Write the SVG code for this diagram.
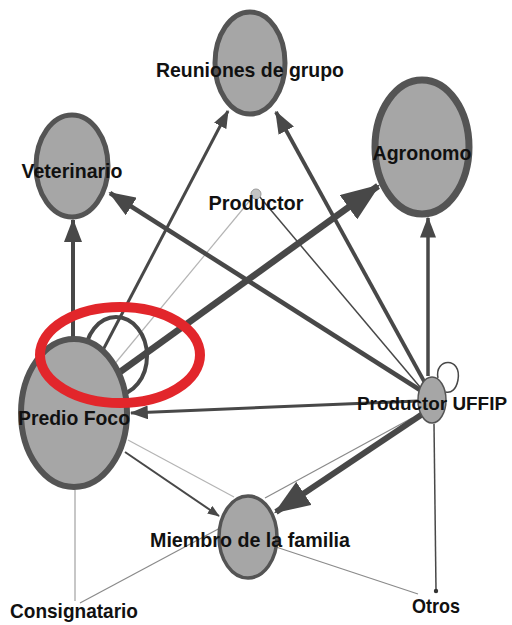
<svg xmlns="http://www.w3.org/2000/svg" width="512" height="625" viewBox="0 0 512 625">
<style>
.node{fill:#a6a6a6;stroke:#545454}
.lbl{font-family:"Liberation Sans",Arial,sans-serif;font-weight:bold;font-size:21px;fill:#111;text-anchor:middle}
.e{fill:none;stroke:#484848;stroke-linecap:butt}
.lt{fill:none;stroke:#b4b4b4}
.md{fill:none;stroke:#8a8a8a}
</style>
<defs>
<marker id="arr" viewBox="0 0 6 4.6" refX="5.6" refY="2.3" markerWidth="6" markerHeight="4.6" markerUnits="strokeWidth" orient="auto">
<path d="M0,0 L6,2.3 L0,4.6 z" fill="#484848"/>
</marker>
</defs>
<rect width="512" height="625" fill="#fff"/>
<g id="connectors">
<line class="lt" x1="75" y1="490" x2="75" y2="601" stroke-width="1.5"/>
<line class="md" x1="80" y1="603" x2="222" y2="527" stroke-width="1.2"/>
<line class="md" x1="276" y1="547" x2="418" y2="594" stroke-width="1.2"/>
<line class="lt" x1="128" y1="440" x2="234" y2="497" stroke-width="1.2"/>
<line class="md" x1="412" y1="418" x2="265" y2="498" stroke-width="1.2"/>
<line class="lt" x1="252" y1="198" x2="108" y2="372" stroke-width="1.2"/>
<line class="e" x1="259" y1="196" x2="420" y2="387" stroke-width="1.5"/>
<line class="e" x1="434" y1="424" x2="436" y2="590" stroke-width="1.5"/>
<circle cx="436" cy="591" r="2.2" fill="#333"/>
<line class="e" x1="73" y1="338" x2="73" y2="220" stroke-width="4" marker-end="url(#arr)"/>
<line class="e" x1="103" y1="350" x2="228" y2="111" stroke-width="3" marker-end="url(#arr)"/>
<line class="e" x1="420" y1="390" x2="110" y2="193" stroke-width="4.5" marker-end="url(#arr)"/>
<line class="e" x1="425" y1="383" x2="276" y2="112" stroke-width="3.8" marker-end="url(#arr)"/>
<line class="e" x1="428" y1="376" x2="428" y2="218" stroke-width="3.5" marker-end="url(#arr)"/>
<line class="e" x1="418" y1="401" x2="131" y2="413" stroke-width="3" marker-end="url(#arr)"/>
<line class="e" x1="125" y1="452" x2="219" y2="516" stroke-width="2" marker-end="url(#arr)"/>
<line class="e" x1="424" y1="413" x2="276" y2="512" stroke-width="6" marker-end="url(#arr)"/>
<line class="e" x1="120" y1="372" x2="378" y2="186" stroke-width="6.5" marker-end="url(#arr)"/>
<ellipse class="e" cx="116" cy="356" rx="31" ry="39" stroke-width="4"/>
<path class="e" d="M438,378 C434,358 462,356 458,380 C456,390 451,393 446,392" stroke-width="1.5"/>
</g>
<g id="node-reuniones">
<ellipse class="node" cx="250" cy="63" rx="35" ry="51" stroke-width="5"/>
<text class="lbl" x="250" y="77" textLength="188" lengthAdjust="spacingAndGlyphs">Reuniones de grupo</text>
</g>
<g id="node-veterinario">
<ellipse class="node" cx="72" cy="166" rx="36" ry="51" stroke-width="5"/>
<text class="lbl" x="72" y="178" textLength="101" lengthAdjust="spacingAndGlyphs">Veterinario</text>
</g>
<g id="node-agronomo">
<ellipse class="node" cx="422" cy="147" rx="47" ry="67" stroke-width="7"/>
<text class="lbl" x="422" y="160" textLength="99" lengthAdjust="spacingAndGlyphs">Agronomo</text>
</g>
<g id="node-productor">
<circle cx="256" cy="194" r="5" fill="#c4c4c4" stroke="#9a9a9a" stroke-width="1"/>
<text class="lbl" x="256" y="210" textLength="95" lengthAdjust="spacingAndGlyphs">Productor</text>
</g>
<g id="node-predio">
<ellipse class="node" cx="74" cy="413" rx="53" ry="74" stroke-width="6"/>
<text class="lbl" x="74" y="425" textLength="112" lengthAdjust="spacingAndGlyphs">Predio Foco</text>
</g>
<g id="node-uffip">
<ellipse class="node" cx="432" cy="400" rx="14" ry="23" stroke-width="1.5"/>
<text class="lbl" x="432" y="410" style="font-size:19px" textLength="150" lengthAdjust="spacingAndGlyphs">Productor UFFIP</text>
</g>
<g id="node-miembro">
<ellipse class="node" cx="248" cy="537" rx="29" ry="41" stroke-width="3.5"/>
<text class="lbl" x="250" y="547" textLength="200" lengthAdjust="spacingAndGlyphs">Miembro de la familia</text>
</g>
<g id="node-consignatario">
<text class="lbl" x="74" y="618" textLength="128" lengthAdjust="spacingAndGlyphs">Consignatario</text>
</g>
<g id="node-otros">
<text class="lbl" x="436" y="613" textLength="48" lengthAdjust="spacingAndGlyphs">Otros</text>
</g>
<ellipse id="highlight" cx="120" cy="355" rx="80" ry="48" fill="none" stroke="#e2262b" stroke-width="10"/>
</svg>
